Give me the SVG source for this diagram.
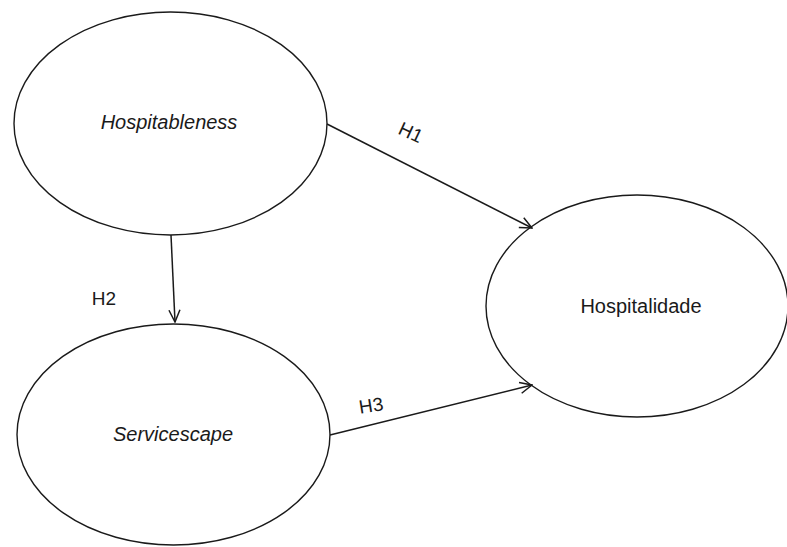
<svg xmlns="http://www.w3.org/2000/svg" width="787" height="547" viewBox="0 0 787 547">
<defs>
<style>
.node{fill:#fff;stroke:#1a1a1a;stroke-width:1.4}
.lbl{font-family:"Liberation Sans",Arial,sans-serif;font-size:20px;fill:#1a1a1a;text-anchor:middle}
.it{font-style:italic}
.edge{stroke:#1a1a1a;stroke-width:1.5;fill:none;marker-end:url(#arr)}
.el{font-family:"Liberation Sans",Arial,sans-serif;font-size:19px;fill:#1a1a1a;text-anchor:middle}
</style>
<marker id="arr" viewBox="0 0 14 14" refX="13" refY="7" markerWidth="14" markerHeight="14" markerUnits="userSpaceOnUse" orient="auto">
<path d="M1,1.5 L13,7 L1,12.5" fill="none" stroke="#1a1a1a" stroke-width="1.5"/>
</marker>
</defs>
<rect width="787" height="547" fill="#fff"/>
<g id="hospitableness">
<ellipse class="node" cx="170.5" cy="123.5" rx="156.5" ry="111.5"/>
<text class="lbl it" x="169" y="129">Hospitableness</text>
</g>
<g id="servicescape">
<ellipse class="node" cx="173.5" cy="434.5" rx="156.5" ry="110.5"/>
<text class="lbl it" x="173" y="441">Servicescape</text>
</g>
<g id="hospitalidade">
<ellipse class="node" cx="637" cy="306" rx="151" ry="111"/>
<text class="lbl" x="641" y="313">Hospitalidade</text>
</g>
<g id="connectors">
<line class="edge" x1="327" y1="124" x2="532" y2="228"/>
<line class="edge" x1="171" y1="235" x2="175" y2="322"/>
<line class="edge" x1="330" y1="435" x2="532" y2="385"/>
<text class="el" x="411" y="139" transform="rotate(25 411 132)">H1</text>
<text class="el" x="104" y="305">H2</text>
<text class="el" x="371" y="412" transform="rotate(-9 371 405)">H3</text>
</g>
</svg>
